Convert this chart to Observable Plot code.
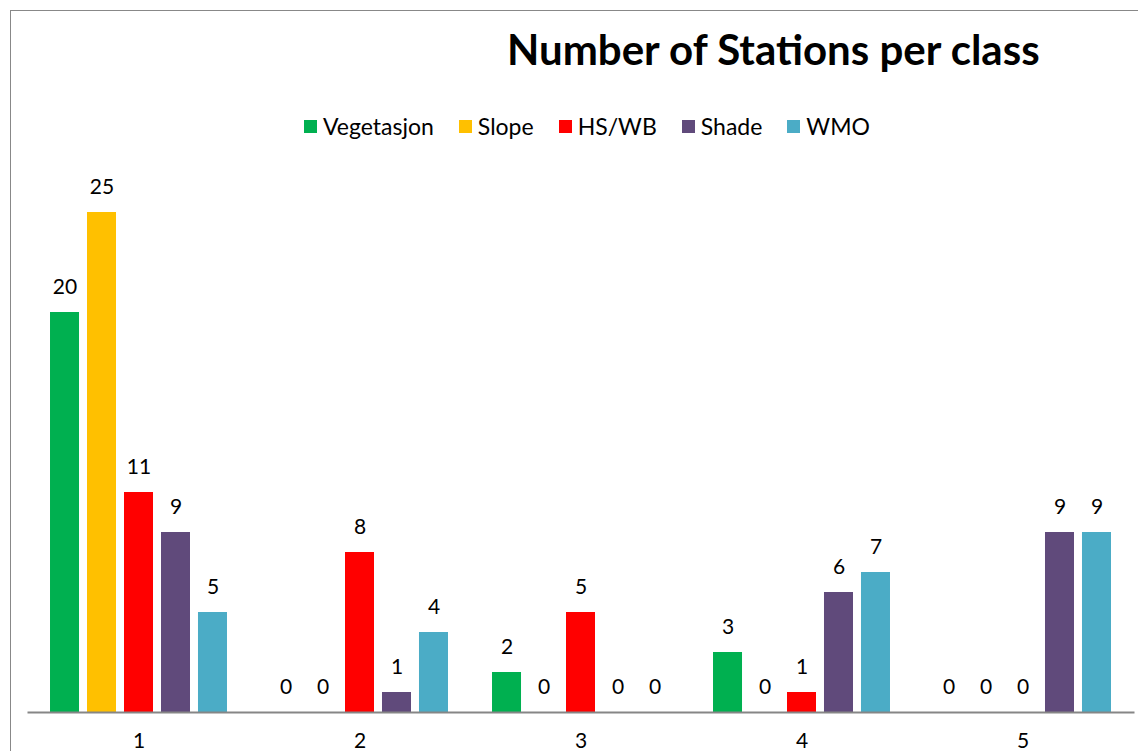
<!DOCTYPE html>
<html>
<head>
<meta charset="utf-8">
<script src="https://cdn.jsdelivr.net/npm/d3@7"></script>
<script src="https://cdn.jsdelivr.net/npm/@observablehq/plot@0.6"></script>
<style>
  html, body { margin: 0; padding: 0; background: #fff; overflow: hidden; }
  #wrap { position: relative; width: 1138px; height: 751px; font-family: Lato, "Open Sans", sans-serif; }
  #border { position: absolute; left: 10px; top: 10px; width: 1200px; height: 800px; border-left: 1.5px solid #888; border-top: 1.5px solid #888; }
  #title { position: absolute; left: 507px; top: 24px; font-size: 42px; font-weight: bold; color: #000; white-space: nowrap; }
  #legend { position: absolute; left: 304px; top: 112px; display: flex; align-items: center; font-size: 23px; color: #000; }
  #legend .item { display: flex; align-items: center; margin-right: 25px; }
  #legend .sw { width: 13px; height: 13px; margin-right: 6px; }
  #chart { position: absolute; left: 0; top: 0; }
</style>
</head>
<body>
<div id="wrap">
  <div id="border"></div>
  <div id="chart"></div>
  <div id="title">Number of Stations per class</div>
  <div id="legend"></div>
</div>
<script>
const classes = ["1", "2", "3", "4", "5"];
const seriesNames = ["Vegetasjon", "Slope", "HS/WB", "Shade", "WMO"];
const seriesColors = ["#00B050", "#FFC000", "#FF0000", "#604A7B", "#4BACC6"];
const vegetasjon = [20, 0, 2, 3, 0];
const slope      = [25, 0, 0, 0, 0];
const hswb       = [11, 8, 5, 1, 0];
const shade      = [9, 1, 0, 6, 9];
const wmo        = [5, 4, 0, 7, 9];
const seriesValues = [vegetasjon, slope, hswb, shade, wmo];

const data = [];
classes.forEach((c, i) => {
  seriesNames.forEach((s, j) => {
    data.push({cls: c, series: s, value: seriesValues[j][i]});
  });
});

const lab = "Lato, 'Open Sans', sans-serif";

function build(useFrame) {
  return Plot.plot({
    width: 1138,
    height: 751,
    marginLeft: 28,
    marginRight: 0,
    marginTop: 112,
    marginBottom: 39,
    style: {background: "transparent", fontFamily: lab, fontSize: "21px", color: "#000", overflow: "visible"},
    fx: {domain: classes, range: [28, 1133], padding: 0, label: null, axis: "bottom", tickSize: 0, tickPadding: 21, round: false},
    x: {domain: seriesNames, paddingInner: 0.216, paddingOuter: 0.595, axis: null, round: false},
    y: {domain: [0, 30], axis: null},
    color: {domain: seriesNames, range: seriesColors},
    marks: [
      Plot.barY(data, {fx: "cls", x: "series", y: "value", fill: "series"}),
      Plot.text(data, {fx: "cls", x: "series", y: "value", text: d => String(d.value), dy: -25, fill: "#000", fontSize: 21}),
      useFrame
        ? Plot.frame({anchor: "bottom", facet: "super", stroke: "#868686", strokeWidth: 2})
        : Plot.ruleY([0], {stroke: "#868686", strokeWidth: 2})
    ]
  });
}
let plot;
try { plot = build(true); } catch (e) { plot = build(false); }
document.getElementById("chart").appendChild(plot);

const leg = document.getElementById("legend");
seriesNames.forEach((s, j) => {
  const it = document.createElement("div");
  it.className = "item";
  const sw = document.createElement("div");
  sw.className = "sw";
  sw.style.background = seriesColors[j];
  const t = document.createElement("span");
  t.textContent = s;
  it.appendChild(sw);
  it.appendChild(t);
  leg.appendChild(it);
});
</script>
</body>
</html>
